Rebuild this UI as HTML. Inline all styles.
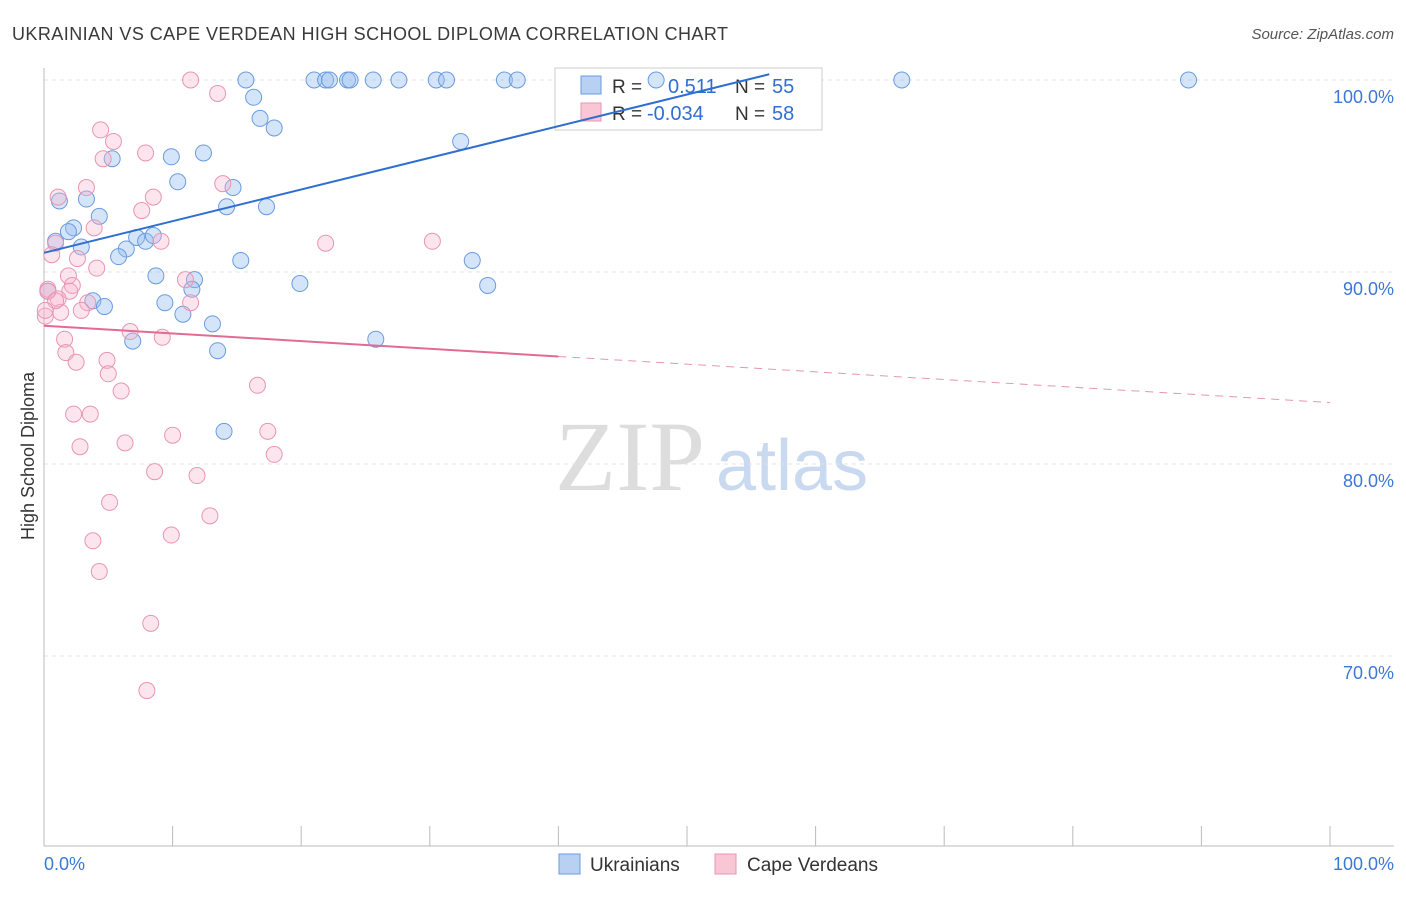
<!DOCTYPE html>
<html><head><meta charset="utf-8"><style>
body{margin:0;background:#fff;font-family:"Liberation Sans",sans-serif;}
</style></head><body>
<svg id="c" width="1406" height="892" xmlns="http://www.w3.org/2000/svg">
<text x="12" y="40" font-size="18" fill="#3a3a3a" textLength="716">UKRAINIAN VS CAPE VERDEAN HIGH SCHOOL DIPLOMA CORRELATION CHART</text>
<text x="1394" y="39" font-size="15" fill="#555" text-anchor="end" font-style="italic">Source: ZipAtlas.com</text>
<text x="0" y="0" transform="translate(34,456) rotate(-90)" font-size="18" fill="#333" text-anchor="middle">High School Diploma</text>
<text x="555" y="490" font-size="100" fill="#ddd" font-family="Liberation Serif,serif">ZIP</text>
<text x="716" y="490" font-size="72" fill="#c9d9ef">atlas</text>
<g id="grid"></g>
<g>
<rect x="555" y="68" width="267" height="62" fill="#fff" stroke="#ccc"/>
<rect x="581" y="76" width="20" height="18" fill="#b8d1f3" stroke="#6a9be0"/>
<rect x="581" y="103" width="20" height="18" fill="#f9c6d6" stroke="#e995b0"/>
<text x="612" y="93" font-size="19" fill="#333">R =</text>
<text x="668" y="93" font-size="20" fill="#2f6fd0">0.511</text>
<text x="735" y="93" font-size="19" fill="#333">N =</text>
<text x="772" y="93" font-size="20" fill="#2f6fd0">55</text>
<text x="612" y="120" font-size="19" fill="#333">R =</text>
<text x="647" y="120" font-size="20" fill="#2f6fd0">-0.034</text>
<text x="735" y="120" font-size="19" fill="#333">N =</text>
<text x="772" y="120" font-size="20" fill="#2f6fd0">58</text>
</g>
<g id="pts"></g><g id="lines"></g>
<g>
<rect x="559" y="854" width="21" height="20" fill="#b8d1f3" stroke="#6a9be0"/>
<text x="590" y="871" font-size="19" fill="#333">Ukrainians</text>
<rect x="715" y="854" width="21" height="20" fill="#f9c6d6" stroke="#e995b0"/>
<text x="747" y="871" font-size="19" fill="#333">Cape Verdeans</text>
</g>
<text x="44" y="870" font-size="18" fill="#3b78d6">0.0%</text>
<text x="1394" y="870" font-size="18" fill="#3b78d6" text-anchor="end">100.0%</text>
</svg>
<script>
const yTicks=[100,90,80,70];
const yTickLabels=["100.0%","90.0%","80.0%","70.0%"];
const blueX=[15.7,21,21.9,22.2,23.6,23.8,25.6,27.6,30.5,31.3,35.8,36.8,47.6,66.7,89,16.3,16.8,17.9,32.4,5.3,9.9,12.4,10.4,14.7,1.2,3.3,14.2,17.3,4.3,2.3,1.9,0.9,2.9,6.4,5.8,7.2,7.9,8.5,15.3,33.3,8.7,11.7,19.9,34.5,11.5,0.3,3.8,9.4,4.7,10.8,13.1,6.9,25.8,13.5,14];
const blueY=[100,100,100,100,100,100,100,100,100,100,100,100,100,100,100,99.1,98,97.5,96.8,95.9,96,96.2,94.7,94.4,93.7,93.8,93.4,93.4,92.9,92.3,92.1,91.6,91.3,91.2,90.8,91.8,91.6,91.9,90.6,90.6,89.8,89.6,89.4,89.3,89.1,89,88.5,88.4,88.2,87.8,87.3,86.4,86.5,85.9,81.7];
const pinkX=[11.4,13.5,4.4,5.4,7.9,4.6,3.3,1.1,8.5,13.9,7.6,3.9,0.9,9.1,21.9,30.2,0.6,2.6,4.1,1.9,11,2.2,0.3,2,1.1,3.4,11.4,2.9,1.3,0.1,6.7,1.6,9.2,1.7,2.5,4.9,5,6,16.6,2.3,3.6,6.3,10,17.4,2.8,17.9,8.6,11.9,5.1,12.9,9.9,3.8,4.3,8.3,8,0.3,0.9,0.1];
const pinkY=[100,99.3,97.4,96.8,96.2,95.9,94.4,93.9,93.9,94.6,93.2,92.3,91.5,91.6,91.5,91.6,90.9,90.7,90.2,89.8,89.6,89.3,89.1,89,88.6,88.4,88.4,88,87.9,87.7,86.9,86.5,86.6,85.8,85.3,85.4,84.7,83.8,84.1,82.6,82.6,81.1,81.5,81.7,80.9,80.5,79.6,79.4,78,77.3,76.3,76,74.4,71.7,68.2,89,88.5,88];
const blueFit=[91.0,100.3];const blueFitX=[0,56.4];
const pinkFit=[87.2,85.6,83.2];const pinkFitX=[0,40,100];
const sx=v=>44+v*12.86, sy=v=>80+(100-v)*19.2;
const NS="http://www.w3.org/2000/svg";
function mk(t,a,p){const e=document.createElementNS(NS,t);for(const k in a)e.setAttribute(k,a[k]);p.appendChild(e);return e;}
const grid=document.getElementById('grid');
yTicks.forEach((t,i)=>{
 const l=mk('line',{x1:44,x2:1394,y1:sy(t),y2:sy(t),stroke:'#e3e3e3','stroke-dasharray':'4,4'},grid);
 
 
 const tx=mk('text',{x:1394,y:sy(t)+23,'font-size':18,fill:'#3b78d6','text-anchor':'end'},grid);
 tx.textContent=yTickLabels[i];
 
 
});
const ax=mk('line',{x1:44,x2:44,y1:68,y2:846,stroke:'#bbb'},grid);


const bx=mk('line',{x1:44,x2:1394,y1:846,y2:846,stroke:'#bbb'},grid);


for(let i=0;i<=10;i++){const t=mk('line',{x1:sx(i*10),x2:sx(i*10),y1:826,y2:846,stroke:'#bbb'},grid);
 
 }
const pts=document.getElementById('pts');
blueX.forEach((x,i)=>{const c=mk('circle',{cx:sx(x),cy:sy(blueY[i]),r:8,fill:'rgba(150,190,240,0.4)',stroke:'#6a9be0','stroke-width':1},pts);
 
 });
pinkX.forEach((x,i)=>{const c=mk('circle',{cx:sx(x),cy:sy(pinkY[i]),r:8,fill:'rgba(248,180,205,0.35)',stroke:'#e995b0','stroke-width':1},pts);
 
 });
const lines=document.getElementById('lines');
const bl=mk('line',{x1:sx(blueFitX[0]),y1:sy(blueFit[0]),x2:sx(blueFitX[1]),y2:sy(blueFit[1]),stroke:'#2f6fd0','stroke-width':2},lines);


const pl=mk('line',{x1:sx(pinkFitX[0]),y1:sy(pinkFit[0]),x2:sx(pinkFitX[1]),y2:sy(pinkFit[1]),stroke:'#e46a95','stroke-width':2},lines);


const pd=mk('line',{x1:sx(pinkFitX[1]),y1:sy(pinkFit[1]),x2:sx(pinkFitX[2]),y2:sy(pinkFit[2]),stroke:'#e995b0','stroke-width':1,'stroke-dasharray':'8,6'},lines);


</script>
</body></html>
